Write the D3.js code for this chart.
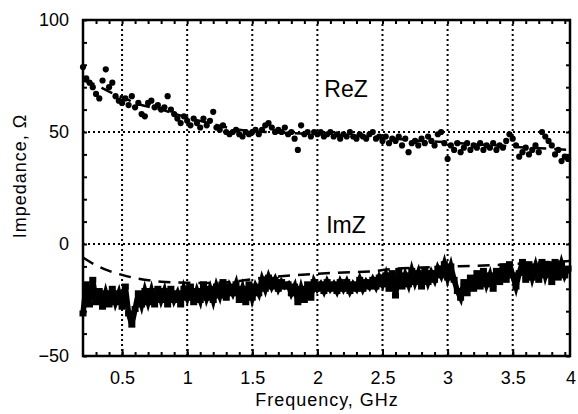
<!DOCTYPE html>
<html>
<head>
<meta charset="utf-8">
<script src="https://cdn.jsdelivr.net/npm/d3@7"></script>
<style>
  body { margin: 0; background: #fff; }
  text { font-family: "Liberation Sans", Arial, Helvetica, sans-serif; fill: #000; }
</style>
</head>
<body>
<svg id="chart"></svg>
<script>
// measured frequencies, GHz
const freq = [
  0.200,0.225,0.250,0.275,0.300,0.325,0.350,0.375,0.400,0.425,
  0.450,0.475,0.500,0.525,0.550,0.575,0.600,0.625,0.650,0.675,
  0.700,0.725,0.750,0.775,0.800,0.825,0.850,0.875,0.900,0.925,
  0.950,0.975,1.000,1.025,1.050,1.075,1.100,1.125,1.150,1.175,
  1.200,1.225,1.250,1.275,1.300,1.325,1.350,1.375,1.400,1.425,
  1.450,1.475,1.500,1.525,1.550,1.575,1.600,1.625,1.650,1.675,
  1.700,1.725,1.750,1.775,1.800,1.825,1.850,1.875,1.900,1.925,
  1.950,1.975,2.000,2.025,2.050,2.075,2.100,2.125,2.150,2.175,
  2.200,2.225,2.250,2.275,2.300,2.325,2.350,2.375,2.400,2.425,
  2.450,2.475,2.500,2.525,2.550,2.575,2.600,2.625,2.650,2.675,
  2.700,2.725,2.750,2.775,2.800,2.825,2.850,2.875,2.900,2.925,
  2.950,2.975,3.000,3.025,3.050,3.075,3.100,3.125,3.150,3.175,
  3.200,3.225,3.250,3.275,3.300,3.325,3.350,3.375,3.400,3.425,
  3.450,3.475,3.500,3.525,3.550,3.575,3.600,3.625,3.650,3.675,
  3.700,3.725,3.750,3.775,3.800,3.825,3.850,3.875,3.900,3.925
]
// measured Re Z, ohm
const reZ = [
  79,74,72,70,67,65,73,78,70,72,
  66,64,63,65,62,66,61,63,58,57,
  63,64,61,62,60,61,66,60,58,56,
  54,57,55,53,56,54,52,56,53,55,
  59,52,51,53,50,49,50,51,49,48,
  50,49,50,51,49,51,53,54,52,50,
  51,50,52,49,50,47,42,53,49,50,
  48,50,49,50,48,49,50,48,49,47,
  49,48,50,48,47,49,48,47,49,50,
  47,48,46,48,45,47,46,48,44,47,
  41,45,46,44,47,45,48,46,44,49,
  50,45,38,44,42,45,41,43,45,42,
  44,43,45,42,44,43,45,42,44,43,
  46,49,47,44,39,41,43,40,42,44,
  41,50,48,46,44,40,42,37,39,38
]
// measured Im Z, ohm
const imZ = [
  -31,-18,-27,-16,-26,-21,-28,-22,-27,-20,
  -26,-22,-28,-19,-31,-36,-29,-22,-27,-21,
  -26,-21,-27,-20,-25,-21,-27,-20,-25,-22,
  -27,-20,-24,-19,-26,-21,-25,-18,-24,-20,
  -25,-19,-23,-17,-24,-19,-22,-18,-25,-20,
  -26,-18,-24,-19,-22,-16,-20,-15,-19,-16,
  -20,-17,-19,-18,-22,-19,-26,-20,-25,-18,
  -24,-17,-20,-18,-21,-17,-20,-18,-21,-17,
  -20,-17,-21,-18,-20,-16,-20,-17,-19,-16,
  -19,-15,-18,-14,-20,-13,-23,-12,-19,-14,
  -18,-12,-17,-13,-19,-12,-17,-13,-16,-11,
  -14,-9,-15,-10,-16,-21,-24,-17,-22,-15,
  -20,-13,-19,-12,-18,-14,-20,-12,-17,-10,
  -16,-9,-14,-19,-13,-8,-16,-9,-15,-10,
  -16,-8,-14,-9,-17,-8,-15,-9,-14,-11
]
// model curves (dashed)
const modelFreq = [0.2,0.3,0.4,0.5,0.6,0.8,1.0,1.2,1.4,1.6,1.8,2.0,2.2,2.4,2.6,2.8,3.0,3.2,3.4,3.6,3.8,3.94]
const reModel = [73,71,68,65.5,63,60,56.5,53.5,51,50,49.5,49,48.5,48,47,46,45.5,44.5,44,43,42.5,42]
const imModel = [-6,-9.5,-12,-13.8,-15.2,-16.8,-17.3,-17.4,-16.5,-15,-14,-13.3,-12.7,-12.3,-11,-10.5,-10.1,-9.8,-9.3,-8.6,-8,-7.6]

const xTicks = [0.5,1,1.5,2,2.5,3,3.5,4]
const yTicks = [-50,0,50,100]
const xGrid = [0.5,1,1.5,2,2.5,3,3.5]
const yGrid = [0,50]

const W = 578, H = 414
const margin = {top: 20, right: 8, bottom: 58, left: 83}

const svg = d3.select('#chart').attr('width', W).attr('height', H)

const x = d3.scaleLinear().domain([0.2, 3.94]).range([margin.left, W - margin.right])
const y = d3.scaleLinear().domain([-50, 100]).range([H - margin.bottom, margin.top])

//Grid
svg.append('g').selectAll('line').data(xGrid).join('line')
    .attr('x1', d => x(d)).attr('x2', d => x(d))
    .attr('y1', y(-50)).attr('y2', y(100))
    .attr('stroke', '#000').attr('stroke-width', 2).attr('stroke-dasharray', '2,3')
svg.append('g').selectAll('line').data(yGrid).join('line')
    .attr('x1', x(0.2)).attr('x2', x(3.94))
    .attr('y1', d => y(d)).attr('y2', d => y(d))
    .attr('stroke', '#000').attr('stroke-width', 2).attr('stroke-dasharray', '2,3')

//Minor and major ticks, inward on all four sides
const xMinor = d3.range(3, 40).map(d => d / 10)
const yMinor = d3.range(-50, 101, 10)
const tickStyle = g => {
    g.select('.domain').remove()
    g.selectAll('line').attr('stroke', '#000').attr('stroke-width', 2)
}
svg.append('g').attr('transform', `translate(0,${y(-50)})`)
    .call(d3.axisBottom(x).tickValues(xMinor).tickSize(-4).tickFormat('')).call(tickStyle)
svg.append('g').attr('transform', `translate(0,${y(100)})`)
    .call(d3.axisTop(x).tickValues(xMinor).tickSize(-4).tickFormat('')).call(tickStyle)
svg.append('g').attr('transform', `translate(0,${y(-50)})`)
    .call(d3.axisBottom(x).tickValues(xGrid).tickSize(-7).tickFormat('')).call(tickStyle)
svg.append('g').attr('transform', `translate(${x(0.2)},0)`)
    .call(d3.axisLeft(y).tickValues(yMinor).tickSize(-4).tickFormat('')).call(tickStyle)
svg.append('g').attr('transform', `translate(${x(3.94)},0)`)
    .call(d3.axisRight(y).tickValues(yMinor).tickSize(-4).tickFormat('')).call(tickStyle)

//Tick labels
const xAxis = svg.append('g').attr('transform', `translate(0,${y(-50)})`)
    .call(d3.axisBottom(x).tickValues(xTicks).tickSize(0).tickPadding(15).tickFormat(d3.format('')))
xAxis.select('.domain').remove()
xAxis.selectAll('text').attr('font-size', 18).attr('font-family', '"Liberation Sans", Arial, sans-serif')
// last label sits on the page edge; nudge it inside
xAxis.selectAll('.tick').filter(d => d === 4).attr('transform', `translate(${W - 7},0)`)
const yAxis = svg.append('g').attr('transform', `translate(${x(0.2)},0)`)
    .call(d3.axisLeft(y).tickValues(yTicks).tickSize(0).tickPadding(14))
yAxis.select('.domain').remove()
yAxis.selectAll('text').attr('font-size', 18).attr('font-family', '"Liberation Sans", Arial, sans-serif')

//Model curves
const modelLine = d3.line().x((d, i) => x(modelFreq[i])).y(d => y(d)).curve(d3.curveMonotoneX)
svg.append('path').datum(reModel).attr('d', modelLine)
    .attr('fill', 'none').attr('stroke', '#000').attr('stroke-width', 2.5).attr('stroke-dasharray', '12,8')
svg.append('path').datum(imModel).attr('d', modelLine)
    .attr('fill', 'none').attr('stroke', '#000').attr('stroke-width', 2.5).attr('stroke-dasharray', '12,8')

//Measured Re Z: dots
svg.append('g').selectAll('circle').data(reZ).join('circle')
    .attr('cx', (d, i) => x(freq[i])).attr('cy', d => y(d)).attr('r', 3.1).attr('fill', '#000')

//Measured Im Z: dense squares joined by a thick line
const imLine = d3.line().x((d, i) => x(freq[i])).y(d => y(d))
svg.append('path').datum(imZ).attr('d', imLine)
    .attr('fill', 'none').attr('stroke', '#000').attr('stroke-width', 5.5)
svg.append('g').selectAll('rect').data(imZ).join('rect')
    .attr('x', (d, i) => x(freq[i]) - 3.5).attr('y', d => y(d) - 3)
    .attr('width', 7).attr('height', 6).attr('fill', '#000')

//Frame
svg.append('rect')
    .attr('x', x(0.2)).attr('y', y(100))
    .attr('width', x(3.94) - x(0.2)).attr('height', y(-50) - y(100))
    .attr('fill', 'none').attr('stroke', '#000').attr('stroke-width', 2.5)

//Labels
svg.append('text').attr('x', 346).attr('y', 97).attr('text-anchor', 'middle')
    .attr('font-size', 23).text('ReZ')
svg.append('text').attr('x', 346).attr('y', 233).attr('text-anchor', 'middle')
    .attr('font-size', 23).text('ImZ')
svg.append('text').attr('x', 327).attr('y', 406).attr('text-anchor', 'middle')
    .attr('font-size', 18).attr('letter-spacing', 1).text('Frequency, GHz')
svg.append('text').attr('transform', 'translate(26,176) rotate(-90)').attr('text-anchor', 'middle')
    .attr('font-size', 18).attr('letter-spacing', 1).text('Impedance, Ω')
</script>
</body>
</html>
